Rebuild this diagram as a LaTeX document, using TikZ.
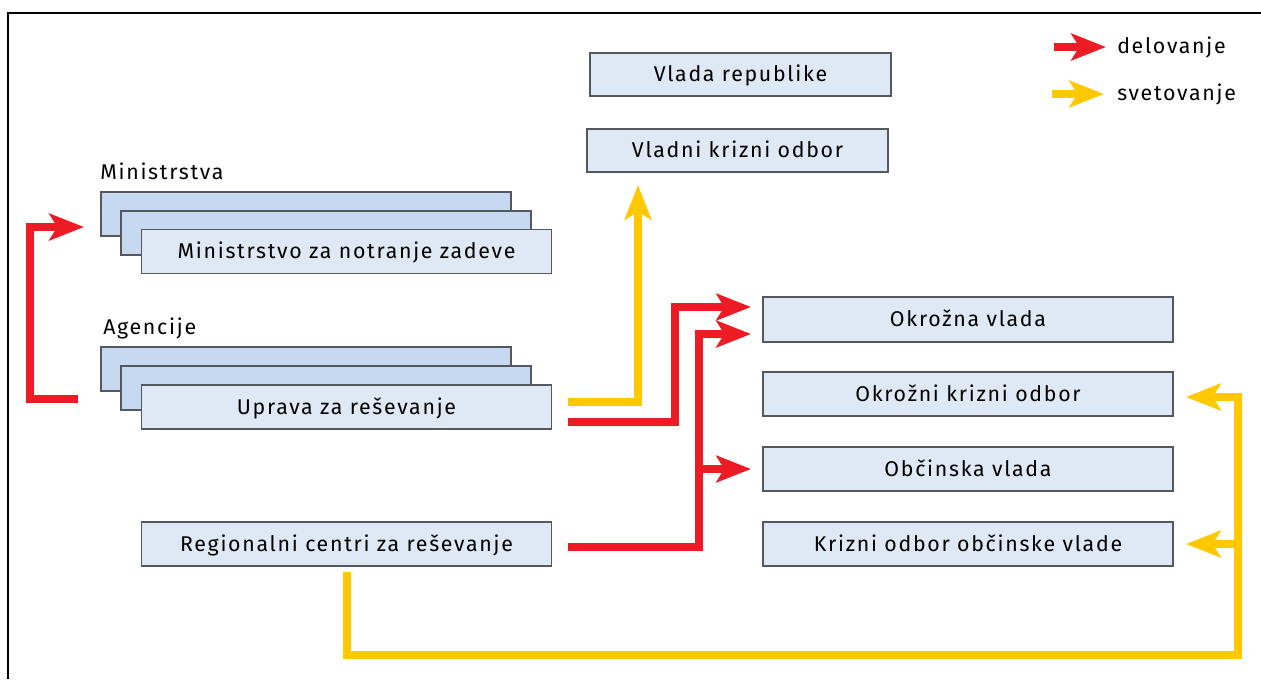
\documentclass[tikz,border=0pt]{standalone}
\usepackage{fontspec}
\setmainfont{Fira Sans}[LetterSpace=8]
\usetikzlibrary{arrows.meta,calc}
\definecolor{boxfront}{HTML}{DFE8F5}
\definecolor{boxback}{HTML}{C6D9F1}
\definecolor{boxline}{HTML}{55585E}
\definecolor{actred}{HTML}{ED1C24}
\definecolor{advyel}{HTML}{FFC800}
\tikzset{
  txt/.style={font=\fontsize{16}{19}\selectfont},
  box/.style={draw=boxline, line width=0.9pt, fill=boxfront, minimum width=307.5pt, minimum height=33pt, inner sep=0pt, text height=13pt, text depth=2.5pt, txt},
  backbox/.style={box, fill=boxback},
  grp/.style={anchor=west, inner sep=0pt, txt},
  tip/.style={-{Stealth[length=26pt, width=20pt, inset=6pt]}},
  redline/.style={draw=actred, line width=6pt, tip},
  yelline/.style={draw=advyel, line width=6pt, tip},
  legtext/.style={anchor=west, inner sep=0pt, txt}
}
\begin{document}
\begin{tikzpicture}[x=0.75pt,y=-0.75pt]
\useasboundingbox (0,0) rectangle (1261,679);
% frame
\draw[line width=1.2pt] (8,679) -- (8,13) -- (1261,13);

% top boxes
\node[box, minimum width=225.75pt, minimum height=32.25pt] (vr) at (740.5,74.5) {Vlada republike};
\node[box, minimum width=225.75pt, minimum height=32.25pt] (vko) at (737.5,150.5) {Vladni krizni odbor};

% ministries
\node[grp] (lmin) at (100,171) {Ministrstva};
\node[backbox] (min1) at (306,214) {};
\node[backbox] (min2) at (326,233) {};
\node[box] (min3) at (346.5,251.5) {Ministrstvo za notranje zadeve};

% agencies
\node[grp] (lag) at (103,328) {Agencije};
\node[backbox] (ag1) at (306,369) {};
\node[backbox] (ag2) at (326,388) {};
\node[box] (ag3) at (346.5,407) {Uprava za reševanje};

% regional
\node[box] (reg) at (346.5,544) {Regionalni centri za reševanje};

% right column
\node[box, minimum height=33.75pt] (okv) at (968,319.5) {Okrožna vlada};
\node[box] (okko) at (968,394) {Okrožni krizni odbor};
\node[box] (obv) at (968,469) {Občinska vlada};
\node[box] (kov) at (968,544) {Krizni odbor občinske vlade};

% legend
\coordinate (lr1) at (1054,47);
\coordinate (lr2) at (1106,47);
\coordinate (ly1) at (1052,94);
\coordinate (ly2) at (1104,94);
\draw[redline] (lr1) -- (lr2);
\draw[yelline] (ly1) -- (ly2);
\node[legtext] (ld) at (1117,47) {delovanje};
\node[legtext] (ls) at (1117,94) {svetovanje};

% connector end points
\coordinate (brs) at (78,399);
\coordinate (bre) at (84,227);
\coordinate (uy) at ($(ag3.east)+(16,-5)$);
\coordinate (ur) at ($(ag3.east)+(16,15)$);
\coordinate (rr) at ($(reg.east)+(16,3)$);
\coordinate (ry) at (347,572);
\coordinate (vkot) at (638,185);
\coordinate (okt1) at (751,307);
\coordinate (okt2) at (751,334);
\coordinate (obt) at (751,469);
\coordinate (okkot) at (1186,397);
\coordinate (kovt) at (1186,544);

% red bracket ministries <-> agencies
\draw[redline] (brs) -- (30,399) -- (30,227) -- (bre);

% agency -> Vladni krizni odbor (yellow)
\draw[yelline] (uy) -- (vkot |- uy) -- (vkot);

% agency -> Okrožna vlada (red)
\draw[redline] (ur) -- (675,422) -- (675,307) -- (okt1);

% regional -> Okrožna vlada, Občinska vlada (red)
\draw[redline] (rr) -- (699,547) -- (699,334) -- (okt2);
\draw[redline] (696,469) -- (obt);

% regional -> county & municipal crisis committees (yellow)
\draw[yelline] (ry) -- (347,655) -- (1238,655) -- (1238,397) -- (okkot);
\draw[yelline] (1241,544) -- (kovt);
\end{tikzpicture}
\end{document}
